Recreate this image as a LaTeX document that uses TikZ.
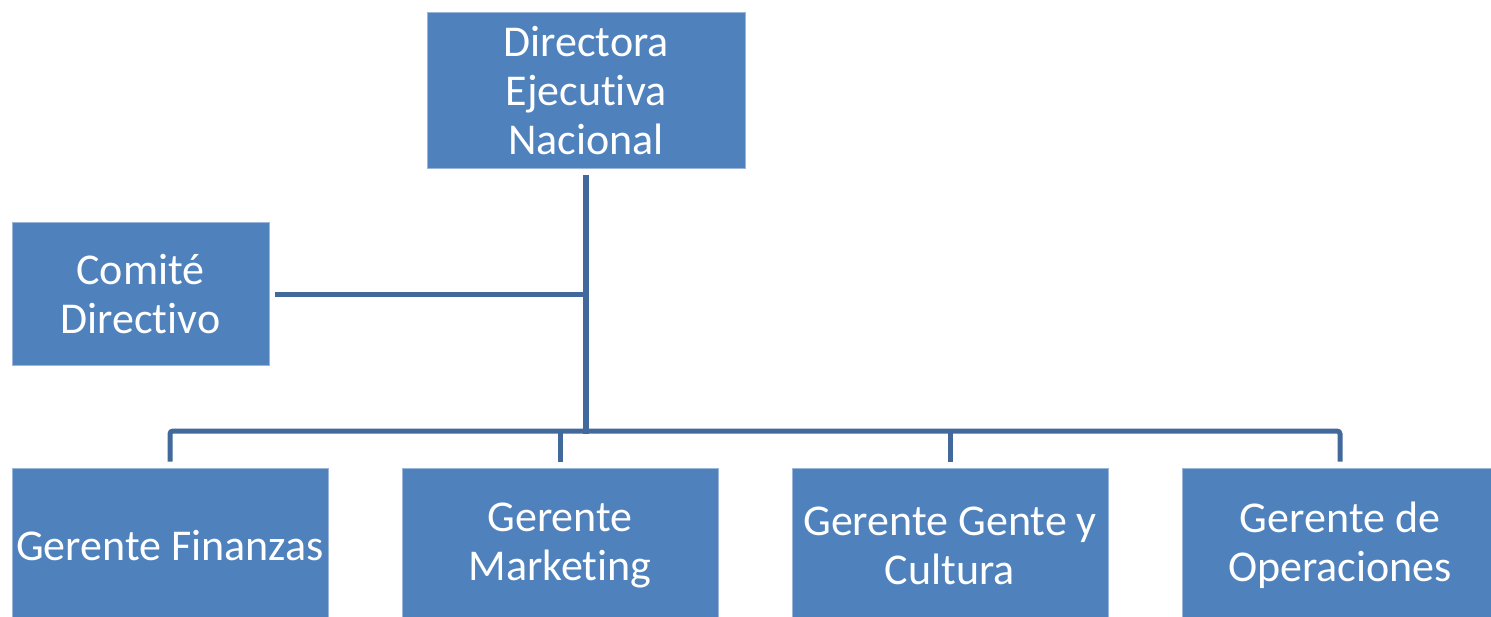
\documentclass[tikz,border=0pt]{standalone}
\usepackage{fontspec}
\setmainfont{Carlito}[Ligatures=NoCommon]
\definecolor{boxfill}{HTML}{4F81BD}
\definecolor{boxedge}{HTML}{9CB6D9}
\definecolor{linkcol}{HTML}{41699B}
\begin{document}
\begin{tikzpicture}[x=1pt,y=-1pt,
  orgbox/.style={draw=boxedge,line width=1pt,fill=boxfill,text=white,inner sep=0pt,
    align=center,font=\fontsize{44}{49}\selectfont},
  link/.style={draw=linkcol,line width=5pt},
  mainlink/.style={draw=linkcol,line width=6pt}]
\useasboundingbox (0,0) rectangle (1491,617);
\clip (0,0) rectangle (1491,617);
\node[orgbox,minimum width=318pt,minimum height=156pt] (top) at (586,91) {Directora\\Ejecutiva\\Nacional};
\node[orgbox,minimum width=257pt,minimum height=143pt] (com) at (140.5,294.5) {Comité\\Directivo};
\node[orgbox,minimum width=316pt,minimum height=155pt] (g1) at (170,545.5) {Gerente Finanzas};
\node[orgbox,minimum width=316pt,minimum height=155pt] (g2) at (560,545.5) {Gerente\\Marketing};
\node[orgbox,minimum width=316pt,minimum height=155pt] (g3) at (950,545.5) {Gerente Gente y\\Cultura};
\node[orgbox,minimum width=316pt,minimum height=155pt] (g4) at (1340,545.5) {Gerente de\\Operaciones};
\coordinate (bar) at (586,431);
\coordinate (cj) at (586,295);
\draw[mainlink] ([yshift=-6pt]top.south) -- ([yshift=-2.5pt]bar);
\draw[link] ([xshift=5pt]com.east |- cj) -- (cj);
\draw[link,rounded corners=3pt] ([yshift=6pt]g1.north) |- (bar) -| ([yshift=6pt]g4.north);
\draw[link] ([yshift=6pt]g2.north) -- (g2.north |- bar);
\draw[link] ([yshift=6pt]g3.north) -- (g3.north |- bar);
\end{tikzpicture}
\end{document}
